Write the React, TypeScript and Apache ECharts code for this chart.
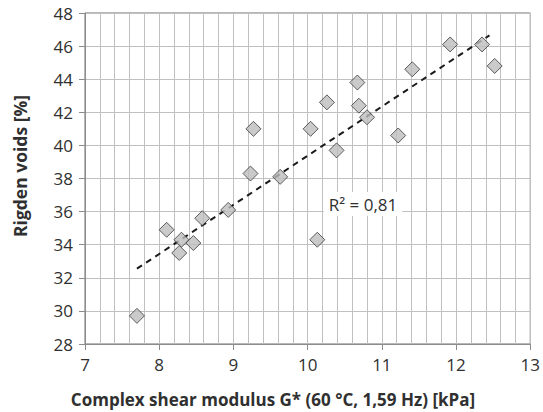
import React, { useEffect, useRef } from "react";
import * as echarts from "echarts";

const gValues = [7.7, 8.1, 8.3, 8.27, 8.46, 8.58, 8.93, 9.27, 9.23, 9.63, 10.04, 10.26, 10.39, 10.67, 10.69, 10.8, 11.22, 11.41, 11.92, 12.35, 12.52, 10.13];
const voidValues = [29.7, 34.9, 34.3, 33.5, 34.1, 35.6, 36.1, 41.0, 38.3, 38.1, 41.0, 42.6, 39.7, 43.8, 42.4, 41.7, 40.6, 44.6, 46.1, 46.1, 44.8, 34.3];
const trendX = [7.7, 12.45];
const trendY = [32.55, 46.65];
const xTicks = [7, 8, 9, 10, 11, 12, 13];
const yTicks = [28, 30, 32, 34, 36, 38, 40, 42, 44, 46, 48];
const r2Label = "R² = 0,81";
const xTitle = "Complex shear modulus G* (60 °C, 1,59 Hz) [kPa]";
const yTitle = "Rigden voids [%]";

const FONT = "'Open Sans', 'Noto Sans', sans-serif";

export default function App() {
  const ref = useRef<HTMLDivElement>(null);
  useEffect(() => {
    if (!ref.current) return;
    const chart = echarts.init(ref.current, undefined, { renderer: "svg" });
    const points = gValues.map((g, i) => [g, voidValues[i]]);
    const trend = trendX.map((x, i) => [x, trendY[i]]);
    chart.setOption({
      animation: false,
      backgroundColor: "#ffffff",
      grid: {
        left: 85,
        top: 13,
        right: 9,
        bottom: 68,
        show: true,
        borderColor: "#6e6e6e",
        borderWidth: 1,
        backgroundColor: "transparent",
      },
      xAxis: {
        type: "value",
        min: xTicks[0],
        max: xTicks[xTicks.length - 1],
        interval: 1,
        axisLine: { show: true, lineStyle: { color: "#8c8c8c", width: 1 } },
        axisTick: { show: true, length: 6, lineStyle: { color: "#8c8c8c" } },
        axisLabel: { color: "#303030", fontSize: 17, fontFamily: FONT, margin: 12 },
        splitLine: { show: true, lineStyle: { color: "#c0c0c0", width: 1 } },
        minorTick: { show: false, splitNumber: 5 },
        minorSplitLine: { show: true, lineStyle: { color: "#c0c0c0", width: 1 } },
      },
      yAxis: {
        type: "value",
        min: yTicks[0],
        max: yTicks[yTicks.length - 1],
        interval: 2,
        axisLine: { show: true, lineStyle: { color: "#8c8c8c", width: 1 } },
        axisTick: { show: true, length: 6, lineStyle: { color: "#8c8c8c" } },
        axisLabel: { color: "#303030", fontSize: 17, fontFamily: FONT, margin: 12 },
        splitLine: { show: true, lineStyle: { color: "#c0c0c0", width: 1 } },
      },
      series: [
        {
          type: "line",
          data: trend,
          showSymbol: false,
          symbol: "none",
          lineStyle: { color: "#1a1a1a", width: 2, type: [6, 5] },
          z: 2,
        },
        {
          type: "scatter",
          data: points,
          symbol: "diamond",
          symbolSize: 15,
          itemStyle: { color: "#bdbdbd", borderColor: "#3a3a3a", borderWidth: 1 },
          z: 3,
        },
      ],
      graphic: [
        {
          type: "text",
          x: 363,
          y: 204,
          z: 10,
          style: {
            text: r2Label,
            font: `17px ${FONT}`,
            fill: "#303030",
            align: "center",
            verticalAlign: "middle",
            backgroundColor: "#ffffff",
            padding: [3, 5, 4, 5],
          },
        },
        {
          type: "text",
          x: 273,
          y: 399,
          style: {
            text: xTitle,
            font: `bold 17px ${FONT}`,
            fill: "#303030",
            align: "center",
            verticalAlign: "middle",
          },
        },
        {
          type: "text",
          x: 20,
          y: 166,
          rotation: Math.PI / 2,
          style: {
            text: yTitle,
            font: `bold 17.5px ${FONT}`,
            fill: "#303030",
            align: "center",
            verticalAlign: "middle",
          },
        },
      ],
    });
    return () => chart.dispose();
  }, []);
  return (
    <div
      ref={ref}
      style={{ position: "fixed", left: 0, top: 0, width: 543, height: 412 }}
    />
  );
}
